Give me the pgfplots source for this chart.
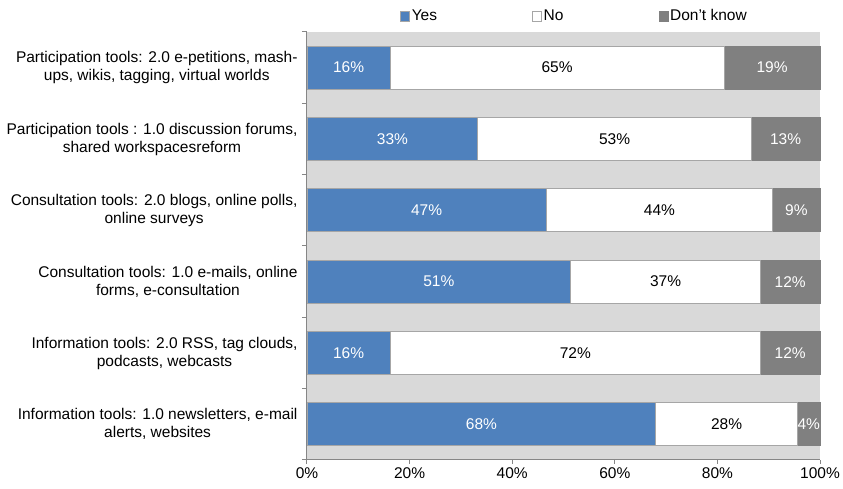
\documentclass[border=0pt]{standalone}
\usepackage{pgfplots}
\pgfplotsset{compat=1.18}
\usepackage{pgfplotstable}
\usepackage{fontspec}
\setmainfont{Liberation Sans}

\definecolor{yesblue}{HTML}{4F81BD}
\definecolor{dkgray}{HTML}{808080}
\definecolor{bggray}{HTML}{D9D9D9}
\definecolor{axisgray}{HTML}{868686}
\definecolor{edgegray}{HTML}{A6A6A6}

% shares in percent, bottom row first
\pgfplotstableread{
pos yes no dk
0 68.0 27.6 4.4
1 16.2 72.2 11.6
2 51.4 37.0 11.6
3 46.6 44.2 9.2
4 33.3 53.3 13.4
5 16.2 65.1 18.7
}\survey

\begin{document}
\begin{tikzpicture}[font=\fontsize{15.5}{18}\selectfont]
\path[use as bounding box] (-307pt,-29pt) rectangle (536pt,460pt);
\begin{axis}[
    at={(0,0)}, anchor=south west,
    scale only axis, width=513pt, height=428pt,
    xbar stacked, bar width=43pt,
    xmin=0, xmax=100, ymin=-0.5, ymax=5.5,
    axis background/.style={fill=bggray},
    axis x line*=bottom, axis y line*=left,
    axis line style={draw=axisgray, line width=1pt, -},
    tick align=outside,
    major tick length=4pt, minor tick length=5pt,
    xtick={0,20,...,100},
    xticklabel={\pgfmathprintnumber{\tick}\%},
    x tick style={draw=axisgray, line width=1pt},
    ytick={0,...,5},
    major y tick style={draw=none},
    minor ytick={-0.5,0.5,...,5.5},
    minor y tick style={draw=axisgray, line width=1pt},
    yticklabels={
        {Information tools: 1.0 newsletters, e-mail\\alerts, websites},
        {Information tools: 2.0 RSS, tag clouds,\\podcasts, webcasts},
        {Consultation tools: 1.0 e-mails, online\\forms, e-consultation},
        {Consultation tools: 2.0 blogs, online polls,\\online surveys},
        {Participation tools : 1.0 discussion forums,\\shared workspacesreform},
        {Participation tools: 2.0 e-petitions, mash-\\ups, wikis, tagging, virtual worlds}},
    yticklabel style={align=center, xshift=-2pt},
    /pgf/number format/assume math mode=true,
    clip=false,
    legend columns=3,
    legend style={at={(0.5,1)}, anchor=center, xshift=11pt, yshift=16pt,
        draw=none, fill=none,
        /tikz/every even column/.append style={column sep=93pt}},
    legend image code/.code={\draw[#1, line width=0.6pt] (0pt,-5pt) rectangle (9pt,5pt);},
    nodes near coords={\pgfmathprintnumber[fixed,precision=0]{\w}\%},
    every node near coord/.append style={anchor=center},
]
\addplot[fill=yesblue, draw=edgegray, line width=0.8pt,
    visualization depends on={\thisrow{yes} \as \w},
    every node near coord/.append style={text=white}]
    table[x=yes, y=pos] {\survey};
\addplot[fill=white, draw=edgegray, line width=0.8pt,
    visualization depends on={\thisrow{no} \as \w},
    every node near coord/.append style={text=black}]
    table[x=no, y=pos] {\survey};
\addplot[fill=dkgray, draw=dkgray, line width=0.8pt,
    visualization depends on={\thisrow{dk} \as \w},
    every node near coord/.append style={text=white}]
    table[x=dk, y=pos] {\survey};
\legend{Yes, No, Don't know}
\end{axis}
\end{tikzpicture}
\end{document}
